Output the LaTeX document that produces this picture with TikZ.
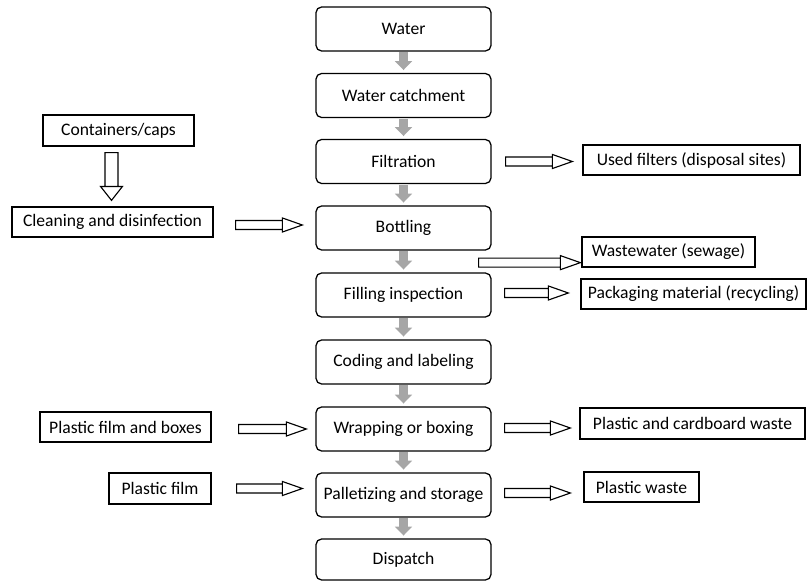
\documentclass[tikz,border=0pt]{standalone}
\usepackage{fontspec}
\setmainfont{Carlito}
\usepackage{tikz}
\usetikzlibrary{arrows.meta, calc}
\definecolor{flowgray}{RGB}{166,166,166}

% open block arrows (shaft + head drawn as outlines)
\newcommand{\hollowright}[2]{%
  \draw[hollow] let \p1=#1, \p2=#2 in
    (\x1,\y1-3.2pt) rectangle (\x2-14.2pt,\y1+3.2pt)
    (\x2-14.2pt,\y1-5pt) -- (\x2,\y1) -- (\x2-14.2pt,\y1+5pt) -- cycle;}
\newcommand{\hollowdown}[2]{%
  \draw[hollow] let \p1=#1, \p2=#2 in
    (\x1-4.6pt,\y1) rectangle (\x1+4.6pt,\y2+9.9pt)
    (\x1-7.8pt,\y2+9.9pt) -- (\x1,\y2) -- (\x1+7.8pt,\y2+9.9pt) -- cycle;}

\begin{document}
\begin{tikzpicture}[x=0.025cm, y=0.025cm, font=\fontsize{12.5}{14}\selectfont,
            stage/.style={draw, line width=0.9pt, rounded corners=4pt, minimum width=4.375cm, minimum height=1.1cm, inner sep=0pt},
            side/.style={draw, line width=0.9pt, minimum height=0.75cm, inner sep=0pt},
            hollow/.style={draw, line width=0.8pt, fill=white},
            flow/.style={flowgray, line width=6.4pt, -{Triangle[length=6.4pt, width=12pt]}, shorten <=0.5pt, shorten >=2pt}]

            \useasboundingbox (0,0) rectangle (807,580);

            % main process
            \node[stage] (water) at (403.5,551) {Water};
            \node[stage] (catch) at (403.5,484.5) {Water catchment};
            \node[stage] (filt) at (403.5,418.5) {Filtration};
            \node[stage] (bott) at (403.5,352) {Bottling};
            \node[stage] (fill) at (403.5,285) {Filling inspection};
            \node[stage] (cod) at (403.5,218) {Coding and labeling};
            \node[stage] (wrap) at (403.5,151) {Wrapping or boxing};
            \node[stage] (pall) at (403.5,85) {Palletizing and storage};
            \node[stage, minimum height=1.025cm] (disp) at (403.5,20.5) {Dispatch};

            \foreach \a/\b in {water/catch, catch/filt, filt/bott, bott/fill, fill/cod, cod/wrap, wrap/pall, pall/disp}
                \draw[flow] (\a.south) -- (\b.north);

            % inputs
            \node[side, minimum width=3.775cm, minimum height=0.775cm] (cont) at (118.5,449.5) {Containers/caps};
            \node[side, minimum width=5.025cm] (clean) at (112.5,358) {Cleaning and disinfection};
            \node[side, minimum width=4.275cm] (pfb) at (125.5,153) {Plastic film and boxes};
            \node[side, minimum width=2.55cm, minimum height=0.775cm] (pf) at (160,91.5) {Plastic film};

            % outputs
            \node[side, minimum width=5.425cm] (used) at (691.5,420) {Used filters (disposal sites)};
            \node[side, minimum width=4.325cm] (waste) at (668.5,328) {Wastewater (sewage)};
            \node[side, minimum width=5.625cm] (pack) at (693.5,286) {Packaging material (recycling)};
            \node[side, minimum width=5.625cm, minimum height=0.775cm] (pcw) at (692.5,156.5) {Plastic and cardboard waste};
            \node[side, minimum width=2.875cm] (pw) at (641.5,93) {Plastic waste};

            \hollowdown{($(cont.south)+(-7,-6)$)}{($(clean.north)+(0,6)$)}
            \hollowright{($(clean.east)+(22,-3)$)}{($(bott.west)+(-13,0)$)}
            \hollowright{($(filt.east)+(14,0)$)}{($(used.west)+(-10,0)$)}
            \hollowright{($(bott.south east)+(-13,-12)$)}{($(waste.west)+(-1,0)$)}
            \hollowright{($(fill.east)+(13,2)$)}{($(pack.west)+(-12,0)$)}
            \hollowright{($(pfb.east)+(27,-2)$)}{($(wrap.west)+(-9,0)$)}
            \hollowright{($(wrap.east)+(13,1)$)}{($(pcw.west)+(-9,0)$)}
            \hollowright{($(pf.east)+(25,0)$)}{($(pall.west)+(-13,0)$)}
            \hollowright{($(pall.east)+(13,2)$)}{($(pw.west)+(-13,0)$)}
        \end{tikzpicture}
\end{document}
